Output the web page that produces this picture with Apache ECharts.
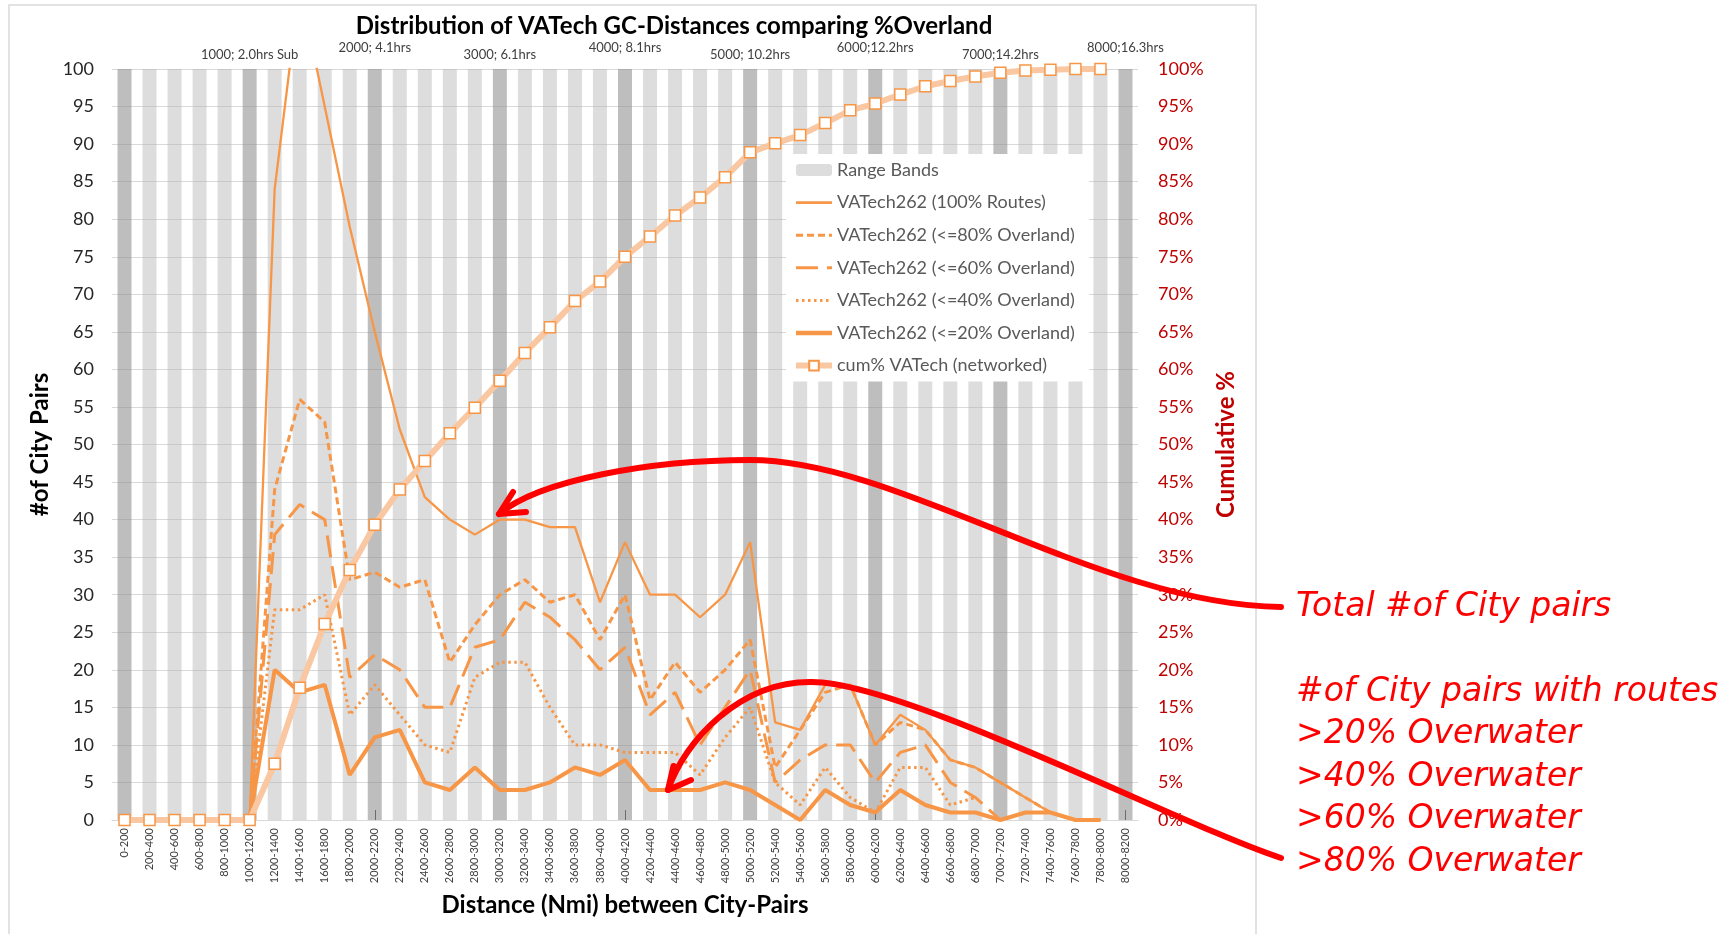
<!DOCTYPE html>
<html><head><meta charset="utf-8">
<script src="https://cdn.jsdelivr.net/npm/echarts@6/dist/echarts.min.js"></script>
<style>html,body{margin:0;padding:0;background:#fff}#c{width:1731px;height:934px}</style>
</head><body><div id="c"></div>
<script>
const categories = ['0-200','200-400','400-600','600-800','800-1000','1000-1200','1200-1400','1400-1600','1600-1800','1800-2000','2000-2200','2200-2400','2400-2600','2600-2800','2800-3000','3000-3200','3200-3400','3400-3600','3600-3800','3800-4000','4000-4200','4200-4400','4400-4600','4600-4800','4800-5000','5000-5200','5200-5400','5400-5600','5600-5800','5800-6000','6000-6200','6200-6400','6400-6600','6600-6800','6800-7000','7000-7200','7200-7400','7400-7600','7600-7800','7800-8000','8000-8200'];
const rangeBands = [100,100,100,100,100,100,100,100,100,100,100,100,100,100,100,100,100,100,100,100,100,100,100,100,100,100,100,100,100,100,100,100,100,100,100,100,100,100,100,100,100];
const routes100 = [0,0,0,0,0,0,84,111,95,79,65,52,43,40,38,40,40,39,39,29,37,30,30,27,30,37,13,12,18,18,10,14,12,8,7,5,3,1,0,0,null];
const over80 = [0,0,0,0,0,0,44,56,53,32,33,31,32,21,26,30,32,29,30,24,30,16,21,17,20,24,7,12,17,18,10,13,12,8,7,5,3,1,0,0,null];
const over60 = [0,0,0,0,0,0,38,42,40,19,22,20,15,15,23,24,29,27,24,20,23,14,17,10,15,20,5,8,10,10,5,9,10,5,3,0,null,null,null,null,null];
const over40 = [0,0,0,0,0,0,28,28,30,14,18,14,10,9,19,21,21,15,10,10,9,9,9,6,11,15,5,2,7,3,1,7,7,2,3,null,null,null,null,null,null];
const over20 = [0,0,0,0,0,0,20,17,18,6,11,12,5,4,7,4,4,5,7,6,8,4,4,4,5,4,2,0,4,2,1,4,2,1,1,0,1,1,0,0,null];
const cumPct = [0,0,0,0,0,0,7.5,17.6,26.1,33.3,39.3,44.0,47.8,51.5,54.9,58.5,62.2,65.6,69.1,71.7,75.0,77.7,80.5,82.9,85.6,88.9,90.1,91.2,92.8,94.5,95.4,96.6,97.7,98.4,99.0,99.5,99.8,99.9,100,100,null];
const topUpperIdx = [10,20,30,40];
const topUpperLabels = ['2000; 4.1hrs','4000; 8.1hrs','6000;12.2hrs','8000;16.3hrs'];
const topLowerIdx = [5,15,25,35];
const topLowerLabels = ['1000; 2.0hrs Sub','3000; 6.1hrs','5000; 10.2hrs','7000;14.2hrs'];
const seriesNames = ['Range Bands','VATech262 (100% Routes)','VATech262 (<=80% Overland)','VATech262 (<=60% Overland)','VATech262 (<=40% Overland)','VATech262 (<=20% Overland)','cum% VATech (networked)'];
const noteLines = ['Total #of City pairs','#of City pairs with routes','>20% Overwater','>40% Overwater','>60% Overwater','>80% Overwater'];

const FONT = 'Lato';
const ORANGE = '#f79646';
const LIGHT = 'rgba(180,180,180,0.45)';
const DARK = 'rgba(140,140,140,0.57)';
const lineWidths = [0, 2.6, 3, 3, 3, 4.5, 6];

function lineSeries(name, data, width, type) {
  return {
    name: name, type: 'line', data: data, symbol: 'none', showSymbol: false,
    lineStyle: {color: ORANGE, width: width, type: type, cap: 'butt'},
    itemStyle: {color: ORANGE}, connectNulls: false, z: 3
  };
}

const chart = echarts.init(document.getElementById('c'), null, {renderer: 'canvas'});
const noteGraphics = noteLines.map((t, i) => ({
  type: 'text', z: 100,
  style: {text: t, x: 1296, y: i === 0 ? 607 : 692 + (i - 1) * 42.6, fill: '#ff0000',
    fontSize: 33, fontStyle: 'italic', fontFamily: '"DejaVu Sans"', verticalAlign: 'middle'}
}));
const arrowStyle = {stroke: '#ff0000', lineWidth: 6, fill: null, lineCap: 'round', lineJoin: 'round'};
const legendData = seriesNames.map((n, i) => {
  if (i === 0) return {name: n};
  if (i === 6) return {name: n, lineStyle: {width: lineWidths[i]}};
  return {name: n, itemStyle: {opacity: 0}, lineStyle: {width: lineWidths[i]}};
});
chart.setOption({
  animation: false,
  backgroundColor: '#ffffff',
  title: {
    text: 'Distribution of VATech GC-Distances comparing %Overland',
    left: 669, top: 9, textAlign: 'center',
    textStyle: {fontFamily: FONT, fontWeight: 'bold', fontSize: 24, color: '#000'}
  },
  legend: {
    orient: 'vertical', left: 786, top: 154, backgroundColor: '#ffffff',
    padding: [6, 14, 6, 7], itemWidth: 36, itemHeight: 12, itemGap: 12.6,
    data: legendData,
    textStyle: {fontFamily: FONT, fontSize: 18, color: '#595959', lineHeight: 20}
  },
  grid: {left: 112, right: 593, top: 69, bottom: 114, containLabel: false},
  xAxis: [
    {
      type: 'category', data: categories, position: 'bottom',
      axisLine: {lineStyle: {color: '#d9d9d9'}}, axisTick: {show: false},
      axisLabel: {rotate: 90, fontSize: 11, fontFamily: FONT, color: '#404040', margin: 8, interval: 0},
      name: 'Distance (Nmi) between City-Pairs', nameLocation: 'middle', nameGap: 73,
      nameTextStyle: {fontFamily: FONT, fontWeight: 'bold', fontSize: 24, color: '#000'}
    },
    {
      type: 'category', data: categories, position: 'top',
      axisLine: {show: false},
      axisTick: {show: true, alignWithLabel: true, length: 10,
        interval: (i) => topUpperIdx.indexOf(i) >= 0, lineStyle: {color: '#404040'}},
      axisLabel: {fontSize: 13, fontFamily: FONT, color: '#404040', margin: 15,
        interval: (i) => topUpperIdx.indexOf(i) >= 0,
        formatter: (v, i) => { const k = topUpperIdx.indexOf(i); return k >= 0 ? topUpperLabels[k] : ''; }}
    },
    {
      type: 'category', data: categories, position: 'top',
      axisLine: {show: false}, axisTick: {show: false},
      axisLabel: {fontSize: 13, fontFamily: FONT, color: '#404040', margin: 8,
        interval: (i) => topLowerIdx.indexOf(i) >= 0,
        formatter: (v, i) => { const k = topLowerIdx.indexOf(i); return k >= 0 ? topLowerLabels[k] : ''; }}
    }
  ],
  yAxis: [
    {
      type: 'value', min: 0, max: 100, interval: 5,
      axisLine: {show: false}, axisTick: {show: false},
      axisLabel: {fontSize: 18, fontFamily: FONT, color: '#262626', margin: 18},
      splitLine: {lineStyle: {color: '#d9d9d9', width: 1}},
      name: '#of City Pairs', nameLocation: 'middle', nameRotate: 90, nameGap: 53,
      nameTextStyle: {fontFamily: FONT, fontWeight: 'bold', fontSize: 24, color: '#000'}
    },
    {
      type: 'value', min: 0, max: 100, interval: 5, position: 'right',
      axisLine: {show: false}, axisTick: {show: false}, splitLine: {show: false},
      axisLabel: {fontSize: 18, fontFamily: FONT, color: '#c00000', margin: 20, formatter: '{value}%'},
      name: 'Cumulative %', nameLocation: 'middle', nameRotate: 90, nameGap: 72,
      nameTextStyle: {fontFamily: FONT, fontWeight: 'bold', fontSize: 24, color: '#c00000'}
    }
  ],
  series: [
    {
      name: seriesNames[0], type: 'bar', barWidth: 14, silent: true, z: 1,
      itemStyle: {color: LIGHT},
      data: rangeBands.map((v, i) => ({value: v, itemStyle: {color: i % 5 === 0 ? DARK : LIGHT}}))
    },
    lineSeries(seriesNames[1], routes100, 2.3, 'solid'),
    lineSeries(seriesNames[2], over80, 3, [7, 4]),
    lineSeries(seriesNames[3], over60, 3, [22, 9]),
    lineSeries(seriesNames[4], over40, 3, [2.5, 3.5]),
    lineSeries(seriesNames[5], over20, 4, 'solid'),
    {
      name: seriesNames[6], type: 'line', yAxisIndex: 1, data: cumPct,
      symbol: 'rect', symbolSize: 11, showAllSymbol: true, z: 4,
      lineStyle: {color: '#f9c7a1', width: 6},
      itemStyle: {color: '#ffffff', borderColor: ORANGE, borderWidth: 1.5}
    }
  ],
  graphic: [
    {type: 'rect', z: -10, silent: true, shape: {x: 9, y: 5, width: 1247, height: 940},
      style: {fill: null, stroke: '#d9d9d9', lineWidth: 1.5}},
    {type: 'bezierCurve', z: 100, shape: {x1: 1281, y1: 607, cpx1: 1100, cpy1: 605, cpx2: 900, cpy2: 460, x2: 750, y2: 460}, style: arrowStyle},
    {type: 'bezierCurve', z: 100, shape: {x1: 750, y1: 460, cpx1: 650, cpy1: 460, cpx2: 540, cpy2: 480, x2: 499, y2: 514}, style: arrowStyle},
    {type: 'polyline', z: 100, shape: {points: [[513, 492], [499, 514], [526, 512]]}, style: arrowStyle},
    {type: 'bezierCurve', z: 100, shape: {x1: 1281, y1: 858, cpx1: 1180, cpy1: 825, cpx2: 900, cpy2: 680, x2: 810, y2: 682}, style: arrowStyle},
    {type: 'bezierCurve', z: 100, shape: {x1: 810, y1: 682, cpx1: 740, cpy1: 682, cpx2: 685, cpy2: 740, x2: 668, y2: 790}, style: arrowStyle},
    {type: 'polyline', z: 100, shape: {points: [[673.5, 766], [668, 790], [691, 780]]}, style: arrowStyle}
  ].concat(noteGraphics)
});
</script>
</body></html>
